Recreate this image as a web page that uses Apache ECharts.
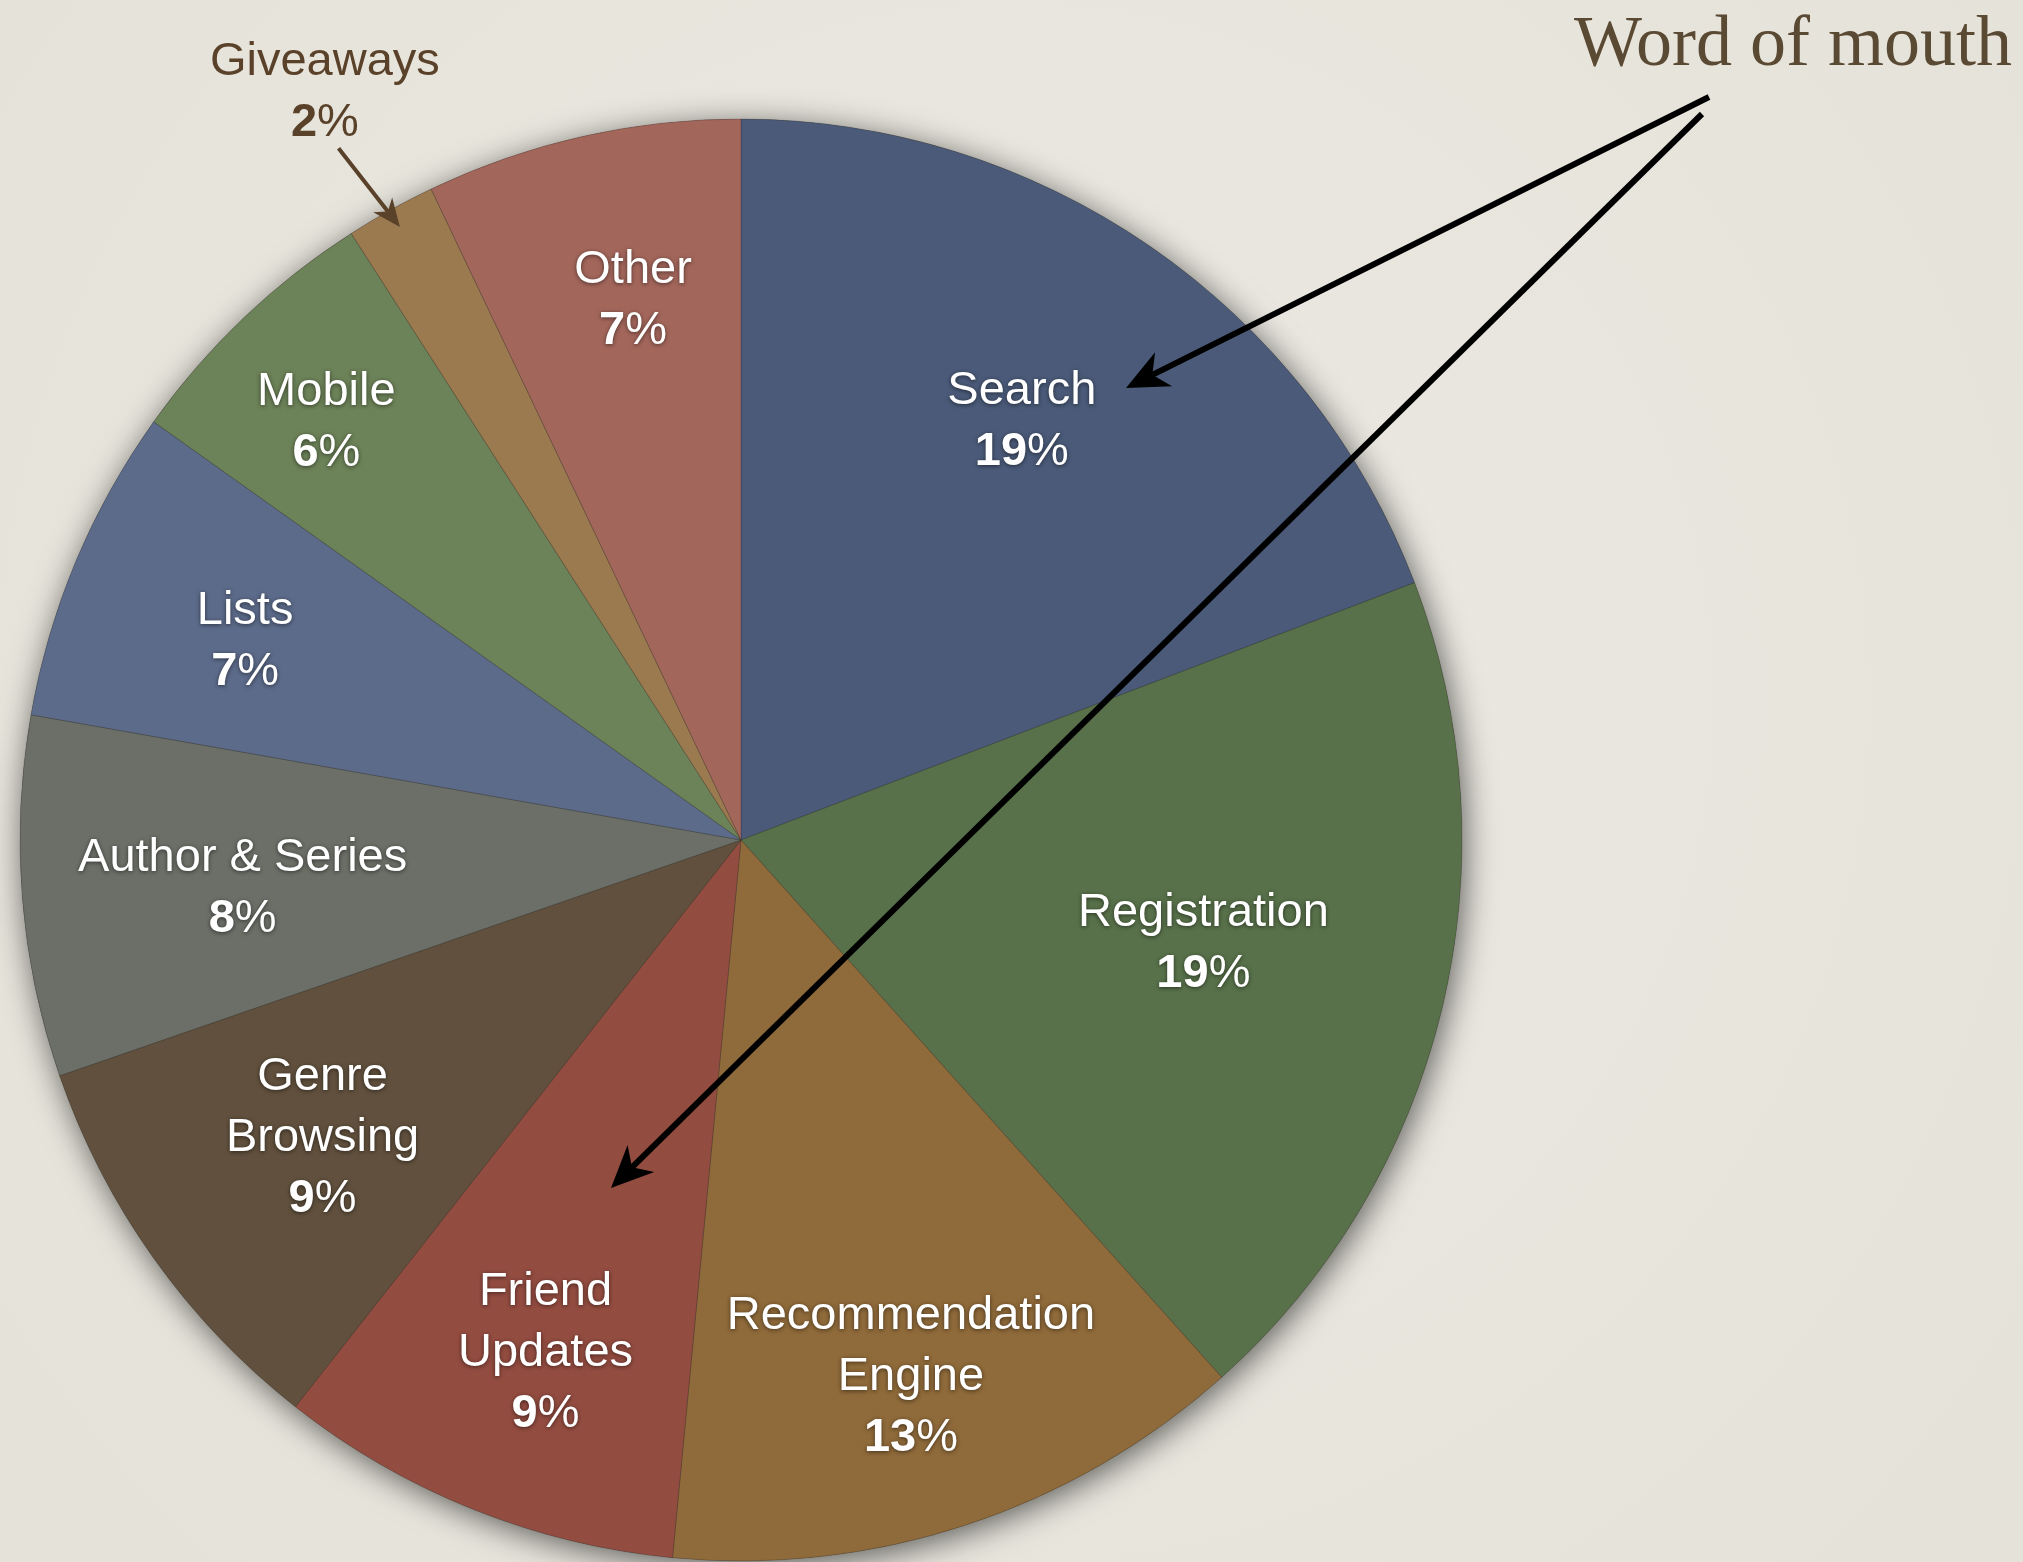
<!DOCTYPE html>
<html>
<head>
<meta charset="utf-8">
<title>Where readers discover books</title>
<script src="https://cdn.jsdelivr.net/npm/echarts@6/dist/echarts.min.js"></script>
<style>
  html, body { margin: 0; padding: 0; background: #ebe8e0; }
  #chart { width: 2023px; height: 1562px; }
</style>
</head>
<body>
<div id="chart"></div>
<script>
// Discovery sources and their share (percent)
const categories = ['Search', 'Registration', 'Recommendation\nEngine', 'Friend\nUpdates', 'Genre\nBrowsing',
                    'Author & Series', 'Lists', 'Mobile', 'Giveaways', 'Other'];
const shares = [19, 19, 13, 9, 9, 8, 7, 6, 2, 7];
const sliceColors = ['#4a5a78', '#58714a', '#8f6a3a', '#934c40', '#61503d',
                     '#6b6f67', '#5c6b8a', '#6c8258', '#9b7a50', '#a3665b'];

// Label placement: distance from the centre (fraction of radius) and a small angular nudge (degrees)
const labelRadius = [0.703, 0.656, 0.776, 0.756, 0.709, 0.694, 0.743, 0.82, 1.187, 0.769];
const labelNudge  = [-0.9, -1.5, 0.5, -0.8, 0.4, -0.6, -0.5, -0.9, 0, 1.5];
const labelDropY = 4;
const outsideLabel = 'Giveaways';

const CX = 741, CY = 840, R = 721;
const SANS = '"Liberation Sans", Helvetica, Arial, sans-serif';
const SERIF = '"Liberation Serif", "Times New Roman", serif';

const total = shares.reduce((a, b) => a + b, 0);

// Mid angle of slice i, clockwise from 12 o'clock (radians)
function midAngle(i) {
  let before = 0;
  for (let k = 0; k < i; k++) before += shares[k];
  return (before + shares[i] / 2) / total * Math.PI * 2;
}
function polar(angle, frac) {
  return [CX + frac * R * Math.sin(angle), CY - frac * R * Math.cos(angle)];
}

function richStyles(color, shadow) {
  const base = {
    fontFamily: SANS, fontSize: 47, lineHeight: 61, color: color,
    textShadowColor: shadow ? 'rgba(0,0,0,0.55)' : 'transparent',
    textShadowBlur: shadow ? 4 : 0, textShadowOffsetX: 0, textShadowOffsetY: shadow ? 1 : 0
  };
  return {
    n: Object.assign({}, base),
    v: Object.assign({}, base, { fontWeight: 'bold' }),
    p: Object.assign({}, base)
  };
}

const pieData = categories.map((name, i) => {
  const item = { name: name, value: shares[i], itemStyle: { color: sliceColors[i] } };
  if (name === outsideLabel) {
    item.label = { position: 'outside', rich: richStyles('#5a4129', false) };
    item.labelLine = { show: false };
  }
  return item;
});

// Arrow helper: shaft plus a notched head, tip at (x2, y2)
function arrow(x1, y1, x2, y2, color, width, headLen, headHalf) {
  const dx = x2 - x1, dy = y2 - y1;
  const len = Math.sqrt(dx * dx + dy * dy);
  const ux = dx / len, uy = dy / len;
  const px = -uy, py = ux;
  const bx = x2 - ux * headLen, by = y2 - uy * headLen;
  const nx = x2 - ux * headLen * 0.7, ny = y2 - uy * headLen * 0.7;
  return [
    { type: 'line', silent: true, z: 10,
      shape: { x1: x1, y1: y1, x2: nx, y2: ny },
      style: { stroke: color, lineWidth: width, lineCap: 'butt' } },
    { type: 'polygon', silent: true, z: 10,
      shape: { points: [[x2, y2], [bx + px * headHalf, by + py * headHalf], [nx, ny], [bx - px * headHalf, by - py * headHalf]] },
      style: { fill: color } }
  ];
}

// Pointer from the Giveaways label to its thin slice
const gIdx = categories.indexOf(outsideLabel);
const gA = midAngle(gIdx);
const gStart = polar(gA - 1.1 * Math.PI / 180, 1.11);
const gEnd = polar(gA, 0.973);

const graphics = [
  { type: 'text', silent: true, z: 10,
    style: { text: 'Word of mouth', x: 1793, y: 46, textAlign: 'center', textVerticalAlign: 'middle',
             font: '72px ' + SERIF, fill: '#5b4a33' } }
]
  .concat(arrow(1709, 97, 1126, 388, '#000', 6, 42, 19))
  .concat(arrow(1702, 114, 611, 1188, '#000', 6, 42, 19))
  .concat(arrow(gStart[0], gStart[1], gEnd[0], gEnd[1], '#5a4129', 4, 28, 12));

const chart = echarts.init(document.getElementById('chart'), null, { renderer: 'canvas' });
chart.setOption({
  backgroundColor: {
    type: 'radial', x: 0.5, y: 0.45, r: 0.8,
    colorStops: [{ offset: 0, color: '#ebe9e2' }, { offset: 1, color: '#e5e2d9' }]
  },
  animation: false,
  graphic: graphics,
  series: [
    {
      // disc underneath that carries the drop shadow
      type: 'pie', silent: true, z: 1,
      center: [CX, CY], radius: R, label: { show: false }, labelLine: { show: false },
      data: [{ value: 1, name: '', itemStyle: { color: '#5f5e52' } }],
      itemStyle: { shadowBlur: 32, shadowColor: 'rgba(0,0,0,0.6)', shadowOffsetX: 3, shadowOffsetY: 6 }
    },
    {
      type: 'pie', z: 2,
      center: [CX, CY], radius: R,
      startAngle: 90, clockwise: true,
      avoidLabelOverlap: false,
      itemStyle: { borderColor: 'rgba(40,35,30,0.25)', borderWidth: 1 },
      label: {
        show: true, position: 'inside',
        formatter: p => '{n|' + p.name + '}\n{v|' + p.value + '}{p|%}',
        rich: richStyles('#ffffff', true)
      },
      labelLine: { show: false },
      labelLayout: params => {
        const i = params.dataIndex;
        const pt = polar(midAngle(i) + labelNudge[i] * Math.PI / 180, labelRadius[i]);
        const drop = categories[i] === outsideLabel ? 0 : labelDropY;
        return { x: pt[0], y: pt[1] + drop, align: 'center', verticalAlign: 'middle' };
      },
      data: pieData
    }
  ]
});
</script>
</body>
</html>
